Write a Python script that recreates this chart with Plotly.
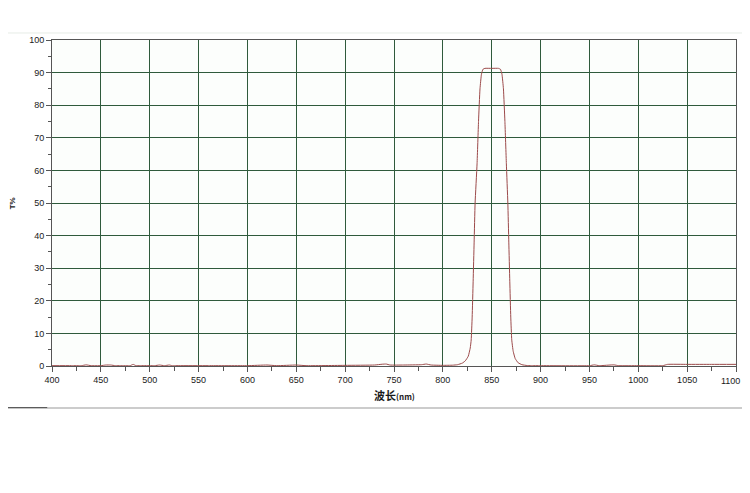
import plotly.graph_objects as go

# transmission spectrum (wavelength in nm, T in %)
wavelength = [400, 420, 430, 435, 440, 450, 455, 460, 465, 470, 480, 483, 486, 490,
              500, 505, 510, 515, 520, 523, 526, 530, 560, 600, 620, 630, 650, 660,
              700, 730, 738, 742, 746, 760, 778, 783, 788, 800, 810, 815, 820, 823,
              826, 828, 829, 830, 831, 832, 833, 835, 836.5, 838, 839.5, 841, 843,
              850, 857, 859, 860.5, 862, 863.5, 865, 866.5, 867.5, 868.5, 869.5,
              870.5, 872, 874, 877, 881, 886, 890, 900, 950, 955, 960, 975, 980,
              1000, 1025, 1030, 1050, 1075, 1100]
transmission = [0.1, 0.1, 0.1, 0.35, 0.1, 0.1, 0.3, 0.3, 0.1, 0.1, 0.1, 0.5, 0.1, 0.1,
                0.1, 0.1, 0.3, 0.1, 0.3, 0.1, 0.1, 0.1, 0.1, 0.1, 0.3, 0.1, 0.3, 0.1,
                0.2, 0.3, 0.55, 0.6, 0.3, 0.3, 0.4, 0.6, 0.3, 0.2, 0.25, 0.4, 0.9, 1.6,
                3.0, 5.5, 8, 15, 26, 38, 50, 62, 75, 85, 89.5, 91, 91.3,
                91.3, 91.3, 91, 89.5, 85, 75, 62, 50, 38, 26, 15,
                8, 4.5, 2.3, 1.0, 0.4, 0.15, 0.1, 0.1, 0.1, 0.35, 0.1, 0.35, 0.1,
                0.1, 0.1, 0.5, 0.5, 0.5, 0.5]

x_ticks = list(range(400, 1101, 50))
y_ticks = list(range(0, 101, 10))

GRID = "#2f5a3c"
AXIS = "#555555"
TEXT = "#1a1a1a"

fig = go.Figure()

fig.add_trace(go.Scatter(
    x=wavelength,
    y=transmission,
    mode="lines",
    line=dict(color="#9c4a4a", width=1, shape="spline", smoothing=0.4),
    hovertemplate="%{x} nm : %{y:.1f}%<extra></extra>",
))

# the page body has an 8px margin, so the figure is kept inside the window
fig.update_layout(
    width=742,
    height=477,
    margin=dict(l=44, r=14, t=32, b=119),
    paper_bgcolor="white",
    plot_bgcolor="#fcfefc",
    showlegend=False,
    font=dict(family="Liberation Sans, Arial, sans-serif", size=9, color=TEXT),
)

# last label would be clipped at the page edge, it is drawn as an annotation below
fig.update_xaxes(
    range=[400, 1100],
    tickvals=x_ticks,
    ticktext=[str(v) for v in x_ticks[:-1]] + [""],
    ticks="outside",
    ticklen=5,
    tickcolor=AXIS,
    showgrid=True,
    gridcolor=GRID,
    gridwidth=1,
    showline=True,
    linecolor=AXIS,
    mirror=True,
    zeroline=False,
    automargin=False,
    minor=dict(dtick=25, tick0=400, ticks="outside", ticklen=4, tickcolor=AXIS, showgrid=False),
)

fig.update_yaxes(
    range=[0, 100],
    tickvals=y_ticks,
    ticks="outside",
    ticklen=5,
    tickcolor=AXIS,
    showgrid=True,
    gridcolor=GRID,
    gridwidth=1,
    showline=True,
    linecolor=AXIS,
    mirror=True,
    zeroline=False,
    automargin=False,
    minor=dict(dtick=5, tick0=0, ticks="outside", ticklen=3, tickcolor=AXIS, showgrid=False),
)

fig.add_annotation(
    x=x_ticks[-1], y=0, xref="x", yref="paper",
    xanchor="right", yanchor="top", xshift=6, yshift=-8,
    text=str(x_ticks[-1]), showarrow=False,
    font=dict(size=9, color=TEXT),
)

# axis titles
fig.add_annotation(
    x=-0.058, y=0.5, xref="paper", yref="paper",
    xanchor="center", yanchor="middle",
    text="<b>T%</b>", textangle=-90, showarrow=False,
    font=dict(size=8, color=TEXT),
)
fig.add_annotation(
    x=0.5, y=-0.088, xref="paper", yref="paper",
    xanchor="center", yanchor="middle",
    text="<b>波长</b><b><span style='font-size:8px'>(nm)</span></b>",
    showarrow=False,
    font=dict(family="Noto Sans CJK SC, sans-serif", size=11, color=TEXT),
)

# window frame lines of the screenshot
fig.add_shape(type="line", xref="paper", yref="paper", x0=-0.07, x1=1.03, y0=1.0215, y1=1.0215,
              line=dict(color="#e6ece6", width=1))
fig.add_shape(type="line", xref="paper", yref="paper", x0=-0.07, x1=1.03, y0=-0.129, y1=-0.129,
              line=dict(color="#cccccc", width=2))
fig.add_shape(type="line", xref="paper", yref="paper", x0=-0.07, x1=-0.007, y0=-0.1275, y1=-0.1275,
              line=dict(color="#555555", width=1))

fig.write_html("out.html")
